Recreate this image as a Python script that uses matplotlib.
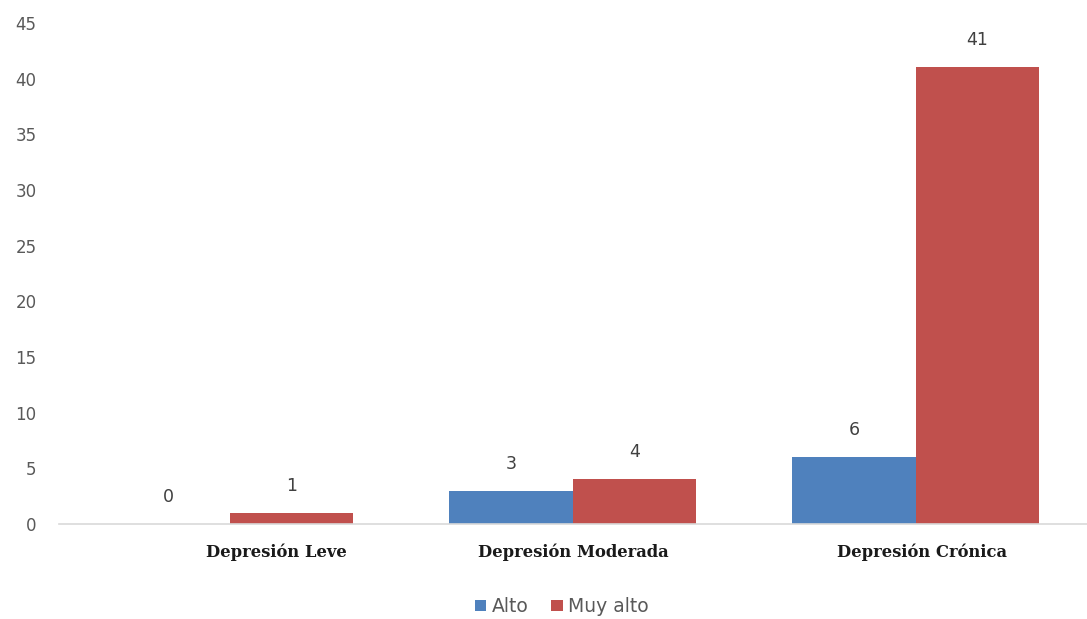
import matplotlib.pyplot as plt
import matplotlib.transforms as mtransforms
import numpy as np

categories = ["Depresión Leve", "Depresión Moderada", "Depresión Crónica"]
alto = [0, 3, 6]
muy_alto = [1, 4, 41]
yticks = [0, 5, 10, 15, 20, 25, 30, 35, 40, 45]

fig = plt.figure(figsize=(10.87, 6.19), dpi=100)
ax = fig.add_axes([0.054, 0.1535, 0.946, 0.8094])

x = np.arange(len(categories))
w = 0.36
blue = "#4F81BD"
red = "#C0504D"
b1 = ax.bar(x - w/2, alto, w, color=blue, label="Alto")
b2 = ax.bar(x + w/2, muy_alto, w, color=red, label="Muy alto")

for bars, vals in ((b1, alto), (b2, muy_alto)):
    for r, v in zip(bars, vals):
        ax.annotate(str(v), (r.get_x() + r.get_width()/2, v), xytext=(0, 13),
                    textcoords="offset points", ha="center", va="bottom",
                    fontsize=12.5, color="#404040")

ax.set_xlim(-0.5, 2.5)
ax.set_ylim(0, 45)
ax.set_yticks(yticks)
ax.set_yticklabels([str(t) for t in yticks])
ax.tick_params(axis="y", length=0, labelsize=12, labelcolor="#595959", pad=16)
ax.tick_params(axis="x", length=0, pad=14)
ax.set_xticks(x)
ax.set_xticklabels(categories, fontsize=11.8, fontweight="bold",
                   family="DejaVu Serif", color="#1a1a1a")
labels = ax.get_xticklabels()
shifts = [0.46, 0.0, 0.06]
for lab, s in zip(labels, shifts):
    lab.set_transform(lab.get_transform() +
                      mtransforms.ScaledTranslation(s, 0, fig.dpi_scale_trans))
for s in ("top", "right", "left"):
    ax.spines[s].set_visible(False)
ax.spines["bottom"].set_color("#D9D9D9")
ax.spines["bottom"].set_linewidth(1.2)

leg = fig.legend(handles=[b1, b2], labels=["Alto", "Muy alto"], loc="center",
                 bbox_to_anchor=(0.517, 0.02), ncol=2, frameon=False,
                 fontsize=13.5, handlelength=0.6, handleheight=0.6,
                 handletextpad=0.3, columnspacing=1.2)
for t in leg.get_texts():
    t.set_color("#595959")

fig.savefig("out.png", dpi=100)
